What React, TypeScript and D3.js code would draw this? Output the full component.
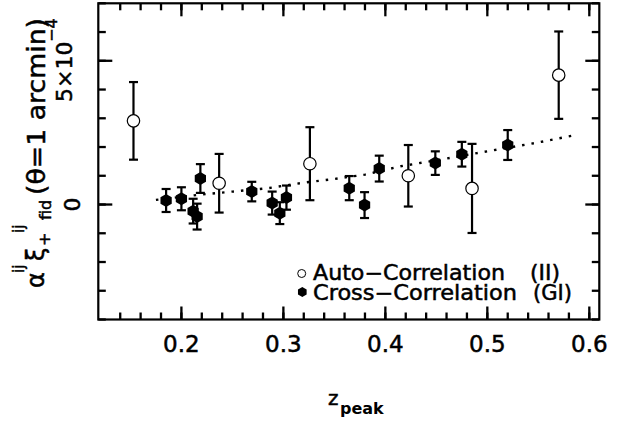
import * as d3 from "d3";

// redshift bins and amplitudes (in units of 1e-4)
const autoZ = [0.153, 0.237, 0.326, 0.4225, 0.485, 0.57];
const autoVal = [2.91, 0.74, 1.42, 1.0, 0.56, 4.5];
const autoErr = [1.35, 1.02, 1.27, 1.07, 1.55, 1.52];

const crossZ = [0.185, 0.2, 0.2115, 0.2154, 0.2186, 0.269, 0.289, 0.2965, 0.303, 0.3646, 0.3796, 0.394, 0.449, 0.475, 0.52];
const crossVal = [0.14, 0.2, -0.23, -0.42, 0.905, 0.45, 0.05, -0.3, 0.24, 0.57, -0.02, 1.25, 1.44, 1.75, 2.07];
const crossErr = [0.4, 0.4, 0.43, 0.45, 0.5, 0.34, 0.4, 0.38, 0.42, 0.42, 0.45, 0.45, 0.41, 0.43, 0.52];

// dotted model curve
const fitZ = [0.175, 0.215, 0.25, 0.285, 0.32, 0.35, 0.38, 0.415, 0.46, 0.49, 0.55, 0.587];
const fitVal = [0.16, 0.33, 0.45, 0.57, 0.76, 0.89, 1.04, 1.33, 1.6, 1.79, 2.16, 2.42];

const xMajor = [0.2, 0.3, 0.4, 0.5, 0.6];
const xMinor = d3.range(14, 61, 2).map((d) => d / 100);
const yMajor = [0, 5];
const yMinor = d3.range(-4, 8, 1);

const FONT = "DejaVu Sans";

function hexPath(cx: number, cy: number, r: number) {
  const pts = d3.range(6).map((k) => {
    const a = ((-90 + k * 60) * Math.PI) / 180;
    return [cx + r * Math.cos(a), cy + r * Math.sin(a)];
  });
  return "M" + pts.map((p) => p.join(",")).join("L") + "Z";
}

export default function App() {
  const W = 621;
  const H = 423;
  const x0 = 98.3, x1 = 599.3, y0 = 3.3, y1 = 319.5;

  const x = d3.scaleLinear().domain([0.1185, 0.6098]).range([x0, x1]);
  const y = d3.scaleLinear().domain([-4, 7]).range([y1, y0]);

  const line = d3
    .line<number>()
    .x((_, i) => x(fitZ[i]))
    .y((d) => y(d));

  const tk = (key: string, a: number, b: number, c: number, d: number) => (
    <line key={key} x1={a} y1={b} x2={c} y2={d} stroke="black" strokeWidth={2.3} />
  );

  const errBar = (z: number, v: number, e: number, key: string) => {
    const cx = x(z);
    const lo = y(v - e);
    const hi = y(v + e);
    return (
      <g key={key}>
        <line x1={cx} x2={cx} y1={lo} y2={hi} stroke="black" strokeWidth={2.2} />
        <line x1={cx - 4.5} x2={cx + 4.5} y1={lo} y2={lo} stroke="black" strokeWidth={2.2} />
        <line x1={cx - 4.5} x2={cx + 4.5} y1={hi} y2={hi} stroke="black" strokeWidth={2.2} />
      </g>
    );
  };

  const bold = { stroke: "black", strokeWidth: 0.5 };

  return (
    <svg
      width={W}
      height={H}
      style={{ position: "absolute", left: 0, top: 0, background: "white" }}
      fontFamily={FONT}
    >
      {/* frame */}
      <rect x={x0} y={y0} width={x1 - x0} height={y1 - y0} fill="none" stroke="black" strokeWidth={2.2} />

      {/* ticks on all four sides, pointing inward */}
      {xMinor.map((t) => tk("xb" + t, x(t), y1, x(t), y1 - 7))}
      {xMinor.map((t) => tk("xt" + t, x(t), y0, x(t), y0 + 7))}
      {xMajor.map((t) => tk("Xb" + t, x(t), y1, x(t), y1 - 13))}
      {xMajor.map((t) => tk("Xt" + t, x(t), y0, x(t), y0 + 13))}
      {yMinor.map((t) => tk("yl" + t, x0, y(t), x0 + 7.5, y(t)))}
      {yMinor.map((t) => tk("yr" + t, x1, y(t), x1 - 7.5, y(t)))}
      {yMajor.map((t) => tk("Yl" + t, x0, y(t), x0 + 14, y(t)))}
      {yMajor.map((t) => tk("Yr" + t, x1, y(t), x1 - 14, y(t)))}

      {/* x tick labels */}
      {xMajor.map((t) => (
        <text key={"xl" + t} x={x(t)} y={352} fontSize={23} textAnchor="middle" {...bold}>
          {t.toFixed(1)}
        </text>
      ))}

      {/* y tick labels */}
      <text transform={`translate(80,${y(0)}) rotate(-90)`} fontSize={22} textAnchor="middle" {...bold}>
        0
      </text>
      <text transform={`translate(72,102) rotate(-90)`} fontSize={22} {...bold}>
        5×10
      </text>
      <text transform={`translate(57,42) rotate(-90)`} fontSize={16} {...bold}>
        −4
      </text>

      {/* y title */}
      <g fontSize={24} {...bold}>
        <text transform="translate(44,288) rotate(-90)">α</text>
        <text transform="translate(24,273) rotate(-90)" fontSize={15}>ij</text>
        <text transform="translate(44,261) rotate(-90)">ξ</text>
        <text transform="translate(50,246) rotate(-90)" fontSize={16}>+</text>
        <text transform="translate(24,233) rotate(-90)" fontSize={15}>ij</text>
        <text transform="translate(51,220) rotate(-90)" fontSize={16}>fid</text>
        <text
          transform="translate(45,195) rotate(-90)"
          fontSize={24}
          textLength={177}
          lengthAdjust="spacingAndGlyphs"
        >
          (θ=1  arcmin)
        </text>
      </g>

      {/* x title */}
      <text x={328} y={405} fontSize={20} {...bold}>z</text>
      <text x={340} y={414} fontSize={16} fontWeight="bold">peak</text>

      {/* model curve */}
      <path
        d={line(fitVal) || ""}
        fill="none"
        stroke="black"
        strokeWidth={2.4}
        strokeDasharray="2.5 7"
      />

      {/* auto-correlation */}
      {autoZ.map((z, i) => errBar(z, autoVal[i], autoErr[i], "ae" + i))}
      {autoZ.map((z, i) => (
        <circle
          key={"ac" + i}
          cx={x(z)}
          cy={y(autoVal[i])}
          r={6.2}
          fill="white"
          stroke="black"
          strokeWidth={1.2}
        />
      ))}

      {/* cross-correlation */}
      {crossZ.map((z, i) => errBar(z, crossVal[i], crossErr[i], "ce" + i))}
      {crossZ.map((z, i) => (
        <path key={"cp" + i} d={hexPath(x(z), y(crossVal[i]), 6.5)} fill="black" />
      ))}

      {/* legend */}
      <g fontSize={20.5} {...bold}>
        <text x={313} y={280} textLength={192} lengthAdjust="spacingAndGlyphs">Auto−Correlation</text>
        <text x={530} y={280} textLength={30} lengthAdjust="spacingAndGlyphs">(II)</text>
        <text x={313} y={299.5} textLength={204} lengthAdjust="spacingAndGlyphs">Cross−Correlation</text>
        <text x={533} y={299.5} textLength={39} lengthAdjust="spacingAndGlyphs">(GI)</text>
      </g>
      <circle cx={301.7} cy={273.5} r={4} fill="white" stroke="black" strokeWidth={1} />
      <path d={hexPath(302.3, 292, 5)} fill="black" />
    </svg>
  );
}
